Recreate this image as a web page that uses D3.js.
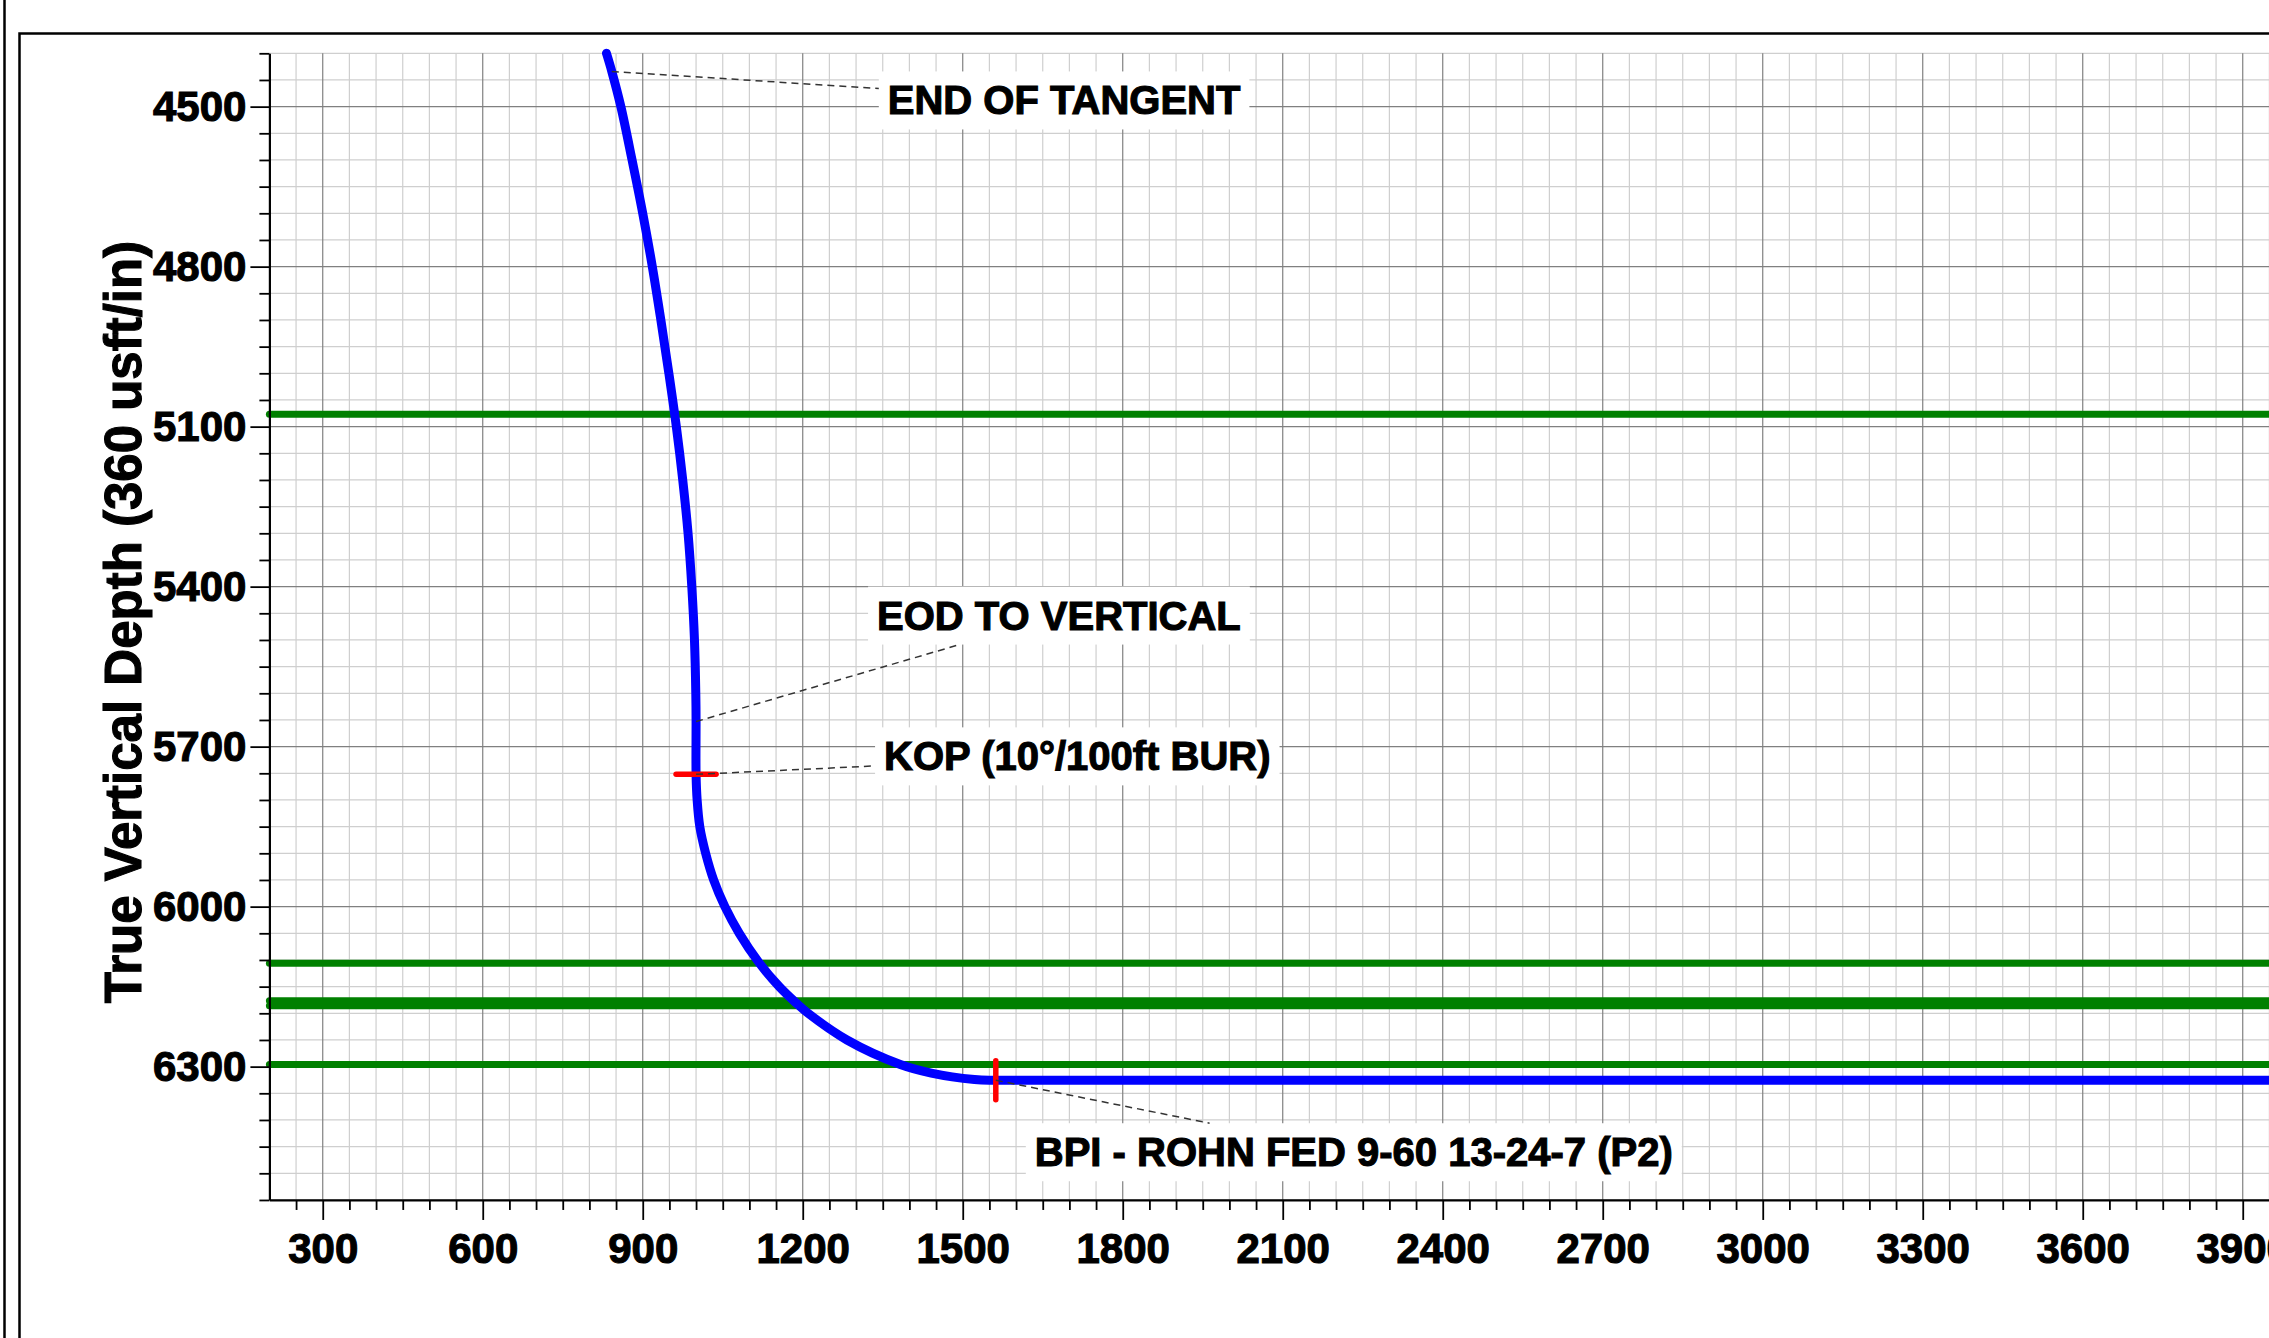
<!DOCTYPE html>
<html>
<head>
<meta charset="utf-8">
<title>True Vertical Depth</title>
<script src="https://cdn.jsdelivr.net/npm/d3@7"></script>
<style>
	html, body { margin: 0; padding: 0; background: #fff; overflow: hidden; }
	svg { display: block; font-family: "Liberation Sans", Arial, sans-serif; font-weight: bold; }
</style>
</head>
<body>
<svg id="plot" width="2269" height="1338"></svg>
<script>
/*
	Run the action once the DOM is there
*/
function whenDocumentLoaded(action) {
	if (document.readyState === "loading") {
		document.addEventListener("DOMContentLoaded", action);
	} else {
		action();
	}
}

/* Well path: vertical section and TVD (usft) */
const PATH_VS = [832, 842, 859, 880, 900, 918, 934, 949, 963, 975, 985, 992, 997, 999.5, 1000, 1000,
	1002, 1007, 1018, 1033, 1054, 1081, 1118, 1156, 1188, 1210, 1283, 1383, 1441, 1522, 1562, 2000, 4000];
const PATH_TVD = [4400, 4434, 4500, 4600, 4700, 4800, 4900, 5000, 5100, 5200, 5300, 5400, 5500, 5600, 5653, 5752,
	5800, 5850, 5900, 5950, 6000, 6050, 6105, 6150, 6181, 6200, 6250, 6296, 6312, 6324, 6325.5, 6325.5, 6325.5];

/* Formation tops (TVD) */
const TOP_TVD = [5077, 6106, 6176.5, 6186, 6296];

/* Annotated points on the path */
const NOTE_TEXT = ['END OF TANGENT', 'EOD TO VERTICAL', 'KOP (10°/100ft BUR)', 'BPI - ROHN FED 9-60 13-24-7 (P2)'];
const NOTE_VS = [842, 1000, 1000, 1562];
const NOTE_TVD = [4434, 5653, 5752, 6325.5];

/* Axes */
const X_DOMAIN = [200, 4000];
const Y_DOMAIN = [4400, 6550];
const X_TICKS = [300, 600, 900, 1200, 1500, 1800, 2100, 2400, 2700, 3000, 3300, 3600, 3900];
const Y_TICKS = [4500, 4800, 5100, 5400, 5700, 6000, 6300];
const Y_TITLE = 'True Vertical Depth (360 usft/in)';

/* Layout (pixels) */
const LEFT = 269.4;
const TOP = 53.3;
const PX_PER_FT = 160 / 300;
const NOTE_OFFSET = [[276, 43], [181, -92], [188, -4], [39, 86]];	// text start relative to the point
const NOTE_MARK = [null, null, 'h', 'v'];	// red tick across the path

class WellPlot {
	plot() {
		const svg = d3.select('#plot');
		const right = LEFT + (X_DOMAIN[1] - X_DOMAIN[0]) * PX_PER_FT;
		const bottom = TOP + (Y_DOMAIN[1] - Y_DOMAIN[0]) * PX_PER_FT;

		const x = d3.scaleLinear().domain(X_DOMAIN).range([LEFT, right]);
		const y = d3.scaleLinear().domain(Y_DOMAIN).range([TOP, bottom]);

		/* page frame */
		svg.append('line')
			.attr('x1', 4.5).attr('x2', 4.5)
			.attr('y1', 0).attr('y2', 1338)
			.style('stroke', '#000').style('stroke-width', 2.5);
		svg.append('rect')
			.attr('x', 19.5).attr('y', 33.5)
			.attr('width', 3000).attr('height', 3000)
			.style('fill', 'none').style('stroke', '#000').style('stroke-width', 2.5);

		/* grid, minor every 50 and major every 300 */
		const minor_x = d3.range(250, X_DOMAIN[1] + 1, 50).filter(v => v % 300 !== 0);
		const minor_y = d3.range(Y_DOMAIN[0], Y_DOMAIN[1] + 1, 50).filter(v => v % 300 !== 0);
		const grid = svg.append('g');
		const gridLines = (vals_x, vals_y, color) => {
			grid.selectAll(null).data(vals_x).enter().append('line')
				.attr('x1', d => x(d)).attr('x2', d => x(d))
				.attr('y1', TOP).attr('y2', bottom)
				.style('stroke', color).style('stroke-width', 1.2);
			grid.selectAll(null).data(vals_y).enter().append('line')
				.attr('x1', LEFT).attr('x2', right)
				.attr('y1', d => y(d)).attr('y2', d => y(d))
				.style('stroke', color).style('stroke-width', 1.2);
		};
		gridLines(minor_x, minor_y, '#cfcfcf');
		gridLines(X_TICKS, Y_TICKS, '#808080');

		/* formation tops */
		svg.append('g').selectAll('line')
			.data(TOP_TVD)
			.enter().append('line')
				.attr('x1', x(X_DOMAIN[0])).attr('x2', x(X_DOMAIN[1]))
				.attr('y1', d => y(d)).attr('y2', d => y(d))
				.style('stroke', '#008000')
				.style('stroke-width', 7)
				.style('stroke-linecap', 'round');

		/* axes */
		const fmt = d3.format('d');
		const xAxis = svg.append('g').attr('transform', `translate(0,${bottom})`)
			.call(d3.axisBottom(x).tickValues(X_TICKS).tickFormat(fmt).tickSize(20).tickSizeOuter(0).tickPadding(13));
		svg.append('g').attr('transform', `translate(0,${bottom})`)
			.call(d3.axisBottom(x).tickValues(minor_x).tickSize(10).tickFormat(''))
			.call(g => g.select('.domain').remove());
		const yAxis = svg.append('g').attr('transform', `translate(${LEFT},0)`)
			.call(d3.axisLeft(y).tickValues(Y_TICKS).tickFormat(fmt).tickSize(19).tickSizeOuter(0).tickPadding(4));
		svg.append('g').attr('transform', `translate(${LEFT},0)`)
			.call(d3.axisLeft(y).tickValues(minor_y).tickSize(10).tickFormat(''))
			.call(g => g.select('.domain').remove());
		svg.selectAll('.domain').style('stroke', '#000').style('stroke-width', 2.2);
		svg.selectAll('.tick line').style('stroke', '#000').style('stroke-width', 1.8);
		[xAxis, yAxis].forEach(g => g.selectAll('text')
			.style('font-family', '"Liberation Sans", Arial, sans-serif')
			.style('font-weight', 'bold')
			.style('font-size', '42px')
			.style('fill', '#000'));

		svg.append('text')
			.attr('transform', `translate(141,622) rotate(-90)`)
			.attr('text-anchor', 'middle')
			.style('font-size', '51px')
			.text(Y_TITLE);

		/* well path */
		const path_data = PATH_VS.map((v, i) => ({ vs: v, tvd: PATH_TVD[i] }));
		const line = d3.line()
			.x(d => x(d.vs))
			.y(d => y(d.tvd))
			.curve(d3.curveCatmullRom.alpha(0.5));
		svg.append('path')
			.datum(path_data)
			.attr('d', line)
			.style('fill', 'none')
			.style('stroke', '#0000ff')
			.style('stroke-width', 9)
			.style('stroke-linecap', 'round')
			.style('stroke-linejoin', 'round');

		/* annotations */
		const notes = NOTE_TEXT.map((t, i) => ({
			text: t,
			px: x(NOTE_VS[i]),
			py: y(NOTE_TVD[i]),
			off: NOTE_OFFSET[i],
			mark: NOTE_MARK[i]
		}));

		const marks = notes.filter(d => d.mark);
		svg.append('g').selectAll('line')
			.data(marks)
			.enter().append('line')
				.attr('x1', d => d.mark === 'h' ? d.px - 20 : d.px)
				.attr('x2', d => d.mark === 'h' ? d.px + 20 : d.px)
				.attr('y1', d => d.mark === 'v' ? d.py - 19.5 : d.py)
				.attr('y2', d => d.mark === 'v' ? d.py + 19.5 : d.py)
				.style('stroke', '#ff0000')
				.style('stroke-width', 5.5)
				.style('stroke-linecap', 'round');

		const boxes = svg.append('g');
		const leaders = svg.append('g');
		const labels = svg.append('g').selectAll('text')
			.data(notes)
			.enter().append('text')
				.attr('x', d => d.px + d.off[0])
				.attr('y', d => d.py + d.off[1])
				.style('font-size', '40px')
				.style('fill', '#000')
				.text(d => d.text);

		labels.each(function(d) {
			const b = this.getBBox();
			d.box = { x0: b.x - 9, y0: b.y - 7, x1: b.x + b.width + 9, y1: b.y + b.height + 7 };
		});

		boxes.selectAll('rect')
			.data(notes)
			.enter().append('rect')
				.attr('x', d => d.box.x0)
				.attr('y', d => d.box.y0)
				.attr('width', d => d.box.x1 - d.box.x0)
				.attr('height', d => d.box.y1 - d.box.y0)
				.style('fill', '#fff');

		/* leader runs toward the box centre and stops at its edge */
		const leaderEnd = d => {
			const cx = (d.box.x0 + d.box.x1) / 2;
			const cy = (d.box.y0 + d.box.y1) / 2;
			const dx = cx - d.px;
			const dy = cy - d.py;
			let t = 0;
			if (dx !== 0) {
				const ex = dx > 0 ? d.box.x0 : d.box.x1;
				t = Math.max(t, (ex - d.px) / dx);
			}
			if (dy !== 0) {
				const ey = dy > 0 ? d.box.y0 : d.box.y1;
				t = Math.max(t, (ey - d.py) / dy);
			}
			return [d.px + t * dx, d.py + t * dy];
		};
		leaders.selectAll('line')
			.data(notes)
			.enter().append('line')
				.attr('x1', d => d.px)
				.attr('y1', d => d.py)
				.attr('x2', d => leaderEnd(d)[0])
				.attr('y2', d => leaderEnd(d)[1])
				.style('stroke', '#333')
				.style('stroke-width', 1.5)
				.style('stroke-dasharray', '7,5');

		/* heavier lettering, as in the original print */
		svg.selectAll('text')
			.style('stroke', '#000')
			.style('stroke-width', 1.1);
	}
}

whenDocumentLoaded(() => {
	const plot = new WellPlot();
	plot.plot();
});
</script>
</body>
</html>
